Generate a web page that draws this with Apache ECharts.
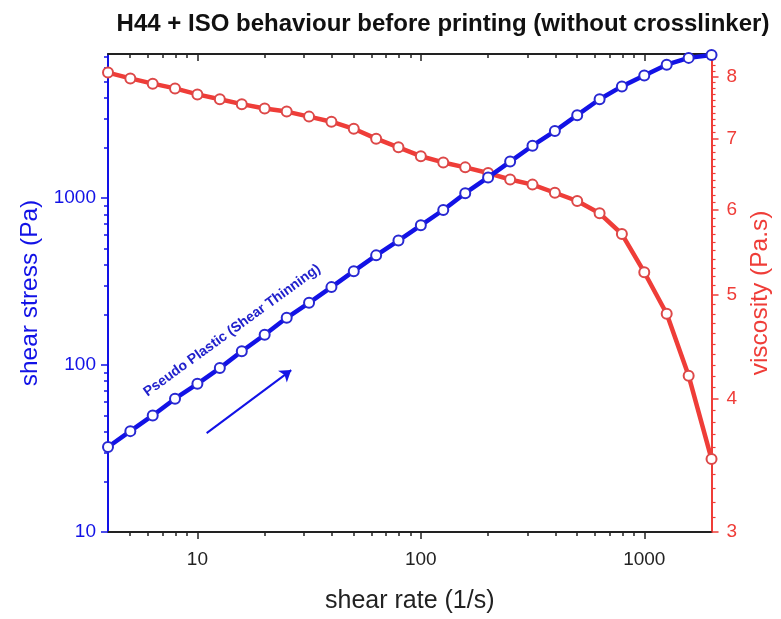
<!DOCTYPE html>
<html>
<head>
<meta charset="utf-8">
<title>H44 + ISO behaviour before printing</title>
<script src="https://cdn.jsdelivr.net/npm/echarts@6/dist/echarts.min.js"></script>
<style>
  html, body { margin: 0; padding: 0; background: #ffffff; }
  #chart { width: 781px; height: 619px; }
</style>
</head>
<body>
<div id="chart"></div>
<script>
// Flow curve: shear rate ramp (1/s), measured stress (Pa) and viscosity (Pa.s)
const shearRate = [3.98, 5.01, 6.31, 7.94, 10, 12.6, 15.8, 20, 25.1, 31.6,
  39.8, 50.1, 63.1, 79.4, 100, 126, 158, 200, 251, 316,
  398, 501, 631, 794, 1000, 1260, 1580, 2000];
const shearStress = [32.3, 40.2, 49.9, 62.9, 77.2, 95.9, 121, 152, 192, 236,
  293, 365, 454, 557, 687, 849, 1070, 1330, 1655, 2060,
  2520, 3140, 3910, 4670, 5420, 6300, 6920, 7210];
const viscosity = [8.07, 7.97, 7.88, 7.80, 7.70, 7.62, 7.54, 7.47, 7.42, 7.34,
  7.26, 7.15, 7.00, 6.87, 6.74, 6.65, 6.58, 6.50, 6.41, 6.34,
  6.23, 6.12, 5.96, 5.70, 5.25, 4.80, 4.20, 3.51];

// Axis ticks
const rateMajor = [10, 100, 1000];
const rateMinor = [5, 6, 7, 8, 9, 20, 30, 40, 50, 60, 70, 80, 90,
  200, 300, 400, 500, 600, 700, 800, 900];
const stressMajor = [10, 100, 1000];
const stressMinor = [20, 30, 40, 50, 60, 70, 80, 90, 200, 300, 400, 500, 600, 700, 800, 900,
  2000, 3000, 4000, 5000, 6000, 7000];
const viscMajor = [3, 4, 5, 6, 7, 8];
const viscMinor = [];
for (let i = 31; i <= 83; i++) {
  if (i % 10 !== 0) viscMinor.push(i / 10);
}

// Arrow showing the direction of the ramp, in data coordinates
const arrowFrom = [11.0, 39.1];
const arrowTo = [26.3, 93.3];
const noteAnchor = [14.3, 161];

const BLUE = '#1212e6';
const RED = '#ef3d38';
const FONT = '"Liberation Sans", Arial, Helvetica, sans-serif';

const xMin = 3.98, xMax = 2000;
const yMin = 10, yMax = 7300;
const vMin = 3, vMax = 8.4;

const plain = v => String(v);

const chart = echarts.init(document.getElementById('chart'), null, { renderer: 'canvas' });

function xAxisDef(pos, ticks, showLine, inside, len, labels, extra) {
  return Object.assign({
    type: 'log', logBase: 10, position: pos, min: xMin, max: xMax,
    axisLine: { show: showLine, onZero: false, lineStyle: { color: '#222', width: 2 } },
    axisTick: { show: true, inside: inside, length: len, customValues: ticks,
      lineStyle: { color: '#222', width: 1.5 } },
    axisLabel: labels ? { show: true, customValues: rateMajor, margin: 18, color: '#222',
      fontSize: 19, fontFamily: FONT, formatter: plain } : { show: false },
    splitLine: { show: false }, minorTick: { show: false }
  }, extra || {});
}

const option = {
  backgroundColor: '#ffffff',
  animation: false,
  title: {
    text: 'H44 + ISO behaviour before printing (without crosslinker)',
    left: 438, top: 7, textAlign: 'center',
    textStyle: { fontFamily: FONT, fontWeight: 'bold', fontSize: 24, color: '#111' }
  },
  grid: { left: 108, right: 63, top: 54, bottom: 82, containLabel: false },
  xAxis: [
    xAxisDef('bottom', rateMajor, true, false, 7, true, {
      name: 'shear rate (1/s)', nameLocation: 'middle', nameGap: 57,
      nameTextStyle: { fontFamily: FONT, fontSize: 25, color: '#222' }
    }),
    xAxisDef('bottom', rateMinor, false, false, 4, false),
    xAxisDef('top', rateMajor, true, true, 7, false),
    xAxisDef('top', rateMinor, false, true, 4, false)
  ],
  yAxis: [
    {
      type: 'log', logBase: 10, position: 'left', min: yMin, max: yMax,
      name: 'shear stress (Pa)', nameLocation: 'middle', nameGap: 46, nameRotate: 90,
      nameTextStyle: { fontFamily: FONT, fontSize: 24.5, color: BLUE },
      axisLine: { show: true, onZero: false, lineStyle: { color: BLUE, width: 2 } },
      axisTick: { show: true, length: 7, customValues: stressMajor, lineStyle: { color: BLUE, width: 1.5 } },
      axisLabel: { customValues: stressMajor, margin: 12, color: BLUE, fontSize: 19,
        fontFamily: FONT, formatter: plain },
      splitLine: { show: false }
    },
    {
      type: 'log', logBase: 10, position: 'left', min: yMin, max: yMax,
      axisLine: { show: false },
      axisTick: { show: true, length: 4, customValues: stressMinor, lineStyle: { color: BLUE, width: 1.5 } },
      axisLabel: { show: false }, splitLine: { show: false }
    },
    {
      type: 'log', logBase: 10, position: 'right', min: vMin, max: vMax,
      name: 'viscosity (Pa.s)', nameLocation: 'middle', nameGap: 31, nameRotate: 90,
      nameTextStyle: { fontFamily: FONT, fontSize: 24.5, color: RED },
      axisLine: { show: true, onZero: false, lineStyle: { color: RED, width: 2 } },
      axisTick: { show: true, length: 7, customValues: viscMajor, lineStyle: { color: RED, width: 1.5 } },
      axisLabel: { customValues: viscMajor, margin: 15, color: RED, fontSize: 19,
        fontFamily: FONT, formatter: plain },
      splitLine: { show: false }
    },
    {
      type: 'log', logBase: 10, position: 'right', min: vMin, max: vMax,
      axisLine: { show: false },
      axisTick: { show: true, length: 4, customValues: viscMinor, lineStyle: { color: RED, width: 1.2 } },
      axisLabel: { show: false }, splitLine: { show: false }
    }
  ],
  series: [
    {
      name: 'viscosity', type: 'line', xAxisIndex: 0, yAxisIndex: 2, clip: false,
      data: shearRate.map((r, i) => [r, viscosity[i]]),
      symbol: 'emptyCircle', symbolSize: 10,
      lineStyle: { color: RED, width: 4.5 },
      itemStyle: { color: '#dd4848', borderWidth: 1.4 },
      z: 3
    },
    {
      name: 'shear stress', type: 'line', xAxisIndex: 0, yAxisIndex: 0, clip: false,
      data: shearRate.map((r, i) => [r, shearStress[i]]),
      symbol: 'emptyCircle', symbolSize: 10,
      lineStyle: { color: BLUE, width: 4.5 },
      itemStyle: { color: '#2828d2', borderWidth: 1.4 },
      z: 4,
      markLine: {
        silent: true, symbol: ['none', 'arrow'], symbolSize: 11,
        label: { show: false },
        lineStyle: { color: BLUE, width: 2, type: 'solid' },
        data: [[{ coord: arrowFrom }, { coord: arrowTo }]]
      }
    }
  ]
};

chart.setOption(option);

// Rotated note along the stress curve
const p = chart.convertToPixel({ xAxisIndex: 0, yAxisIndex: 0 }, noteAnchor);
chart.setOption({
  graphic: [{
    type: 'text', x: p[0], y: p[1], rotation: 36 * Math.PI / 180,
    style: {
      text: 'Pseudo Plastic (Shear Thinning)', fill: '#2222cc',
      font: 'bold 14px ' + FONT, align: 'center', verticalAlign: 'middle'
    }
  }]
});
</script>
</body>
</html>
